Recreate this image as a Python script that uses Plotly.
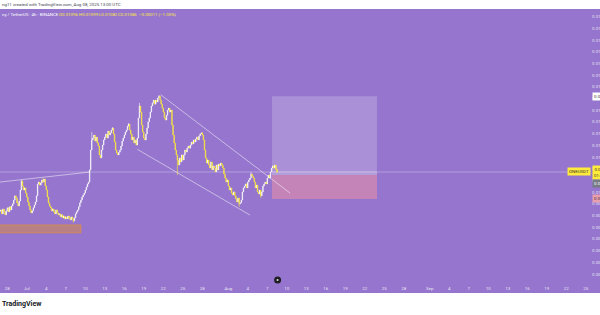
import pandas as pd
import plotly.graph_objects as go

# ---------------- data (prices in units of 1e-5 USDT) ----------------
start_time = "2025-06-27 00:00"   # first 4h candle
first_open_e5 = 918
close_e5 = [
    924, 907, 928, 916, 903, 920,
    933, 916, 937, 924, 941, 950,
    966, 984, 975, 954, 941, 962,
    1009, 1048, 1026, 1009, 1018, 996,
    979, 958, 941, 924, 911, 920,
    933, 945, 958, 984, 1035, 1043,
    1030, 1039, 1052, 1043, 1056, 1026,
    1009, 979, 954, 941, 933, 920,
    928, 916, 907, 924, 911, 903,
    907, 894, 903, 890, 898, 886,
    894, 886, 898, 890, 881, 894,
    886, 877, 890, 907, 916, 924,
    937, 954, 966, 979, 988, 996,
    1009, 1022, 1035, 1043, 1095, 1180,
    1223, 1231, 1244, 1218, 1235, 1210,
    1197, 1159, 1146, 1180, 1201, 1223,
    1235, 1248, 1231, 1261, 1244, 1253,
    1265, 1274, 1248, 1214, 1180, 1167,
    1159, 1171, 1180, 1197, 1218, 1231,
    1244, 1257, 1265, 1282, 1291, 1265,
    1248, 1223, 1235, 1210, 1223, 1201,
    1231, 1317, 1368, 1342, 1287, 1257,
    1231, 1223, 1248, 1274, 1300, 1317,
    1342, 1368, 1381, 1393, 1376, 1393,
    1385, 1402, 1410, 1393, 1376, 1359,
    1342, 1317, 1308, 1329, 1351, 1359,
    1342, 1351, 1287, 1244, 1210, 1180,
    1159, 1137, 1116, 1146, 1129, 1159,
    1137, 1159, 1180, 1171, 1188, 1197,
    1188, 1201, 1214, 1206, 1223, 1214,
    1227, 1235, 1223, 1240, 1248, 1253,
    1244, 1223, 1180, 1146, 1124, 1137,
    1116, 1103, 1129, 1095, 1112, 1103,
    1086, 1116, 1095, 1120, 1112, 1124,
    1116, 1103, 1077, 1060, 1043, 1052,
    1026, 1009, 1018, 996, 988, 1001,
    984, 971, 958, 975, 950, 954,
    966, 1001, 1018, 1026, 1035, 1018,
    1043, 1052, 1060, 1077, 1069, 1060,
    1043, 1018, 1030, 1001, 992, 1009,
    984, 1001, 1026, 1035, 1043, 1035,
    1060, 1073, 1060, 1086, 1103, 1112,
    1103, 1116, 1097, 1086,
]
# notable wick extremes (candle index -> price e5)
wick_high_e5 = {19: 1052, 39: 1060, 84: 1257, 103: 1278, 118: 1295, 128: 1381,
                146: 1415, 186: 1257, 231: 1086, 255: 1099}
wick_low_e5 = {67: 869, 163: 1073, 220: 937, 240: 975, 255: 1082}

x_tick_dates = ["2025-06-28", "2025-07-01", "2025-07-04", "2025-07-07", "2025-07-10",
                "2025-07-13", "2025-07-16", "2025-07-19", "2025-07-22", "2025-07-25",
                "2025-07-28", "2025-08-01", "2025-08-04", "2025-08-07", "2025-08-10",
                "2025-08-13", "2025-08-16", "2025-08-19", "2025-08-22", "2025-08-25",
                "2025-08-28", "2025-09-01", "2025-09-04", "2025-09-07", "2025-09-10",
                "2025-09-13", "2025-09-16", "2025-09-19", "2025-09-22", "2025-09-25"]
x_tick_text = ["28", "Jul", "4", "7", "10", "13", "16", "19", "22", "25", "28", "Aug",
               "4", "7", "10", "13", "16", "19", "22", "25", "28", "Sep", "4", "7",
               "10", "13", "16", "19", "22", "25"]

last_price = 0.01086
target_price = 0.01410
entry_price = 0.01073
stop_price = 0.00971

# ---------------- build OHLC ----------------
t = pd.date_range(start_time, periods=len(close_e5), freq="4h")
close = [c * 1e-5 for c in close_e5]
open_ = [first_open_e5 * 1e-5] + close[:-1]
high, low = [], []
for i, (o, c) in enumerate(zip(open_, close)):
    high.append(max(o, c, wick_high_e5.get(i, 0) * 1e-5))
    low.append(min(o, c, wick_low_e5.get(i, 10 ** 6) * 1e-5))

PURPLE = "#9575cd"
YELLOW = "#ffeb3b"
W, H = 600, 315
ML, MR, MT, MB = 0, 9, 9, 32
PW, PH = W - ML - MR, H - MT - MB


def px_x(x):
    return (x - ML) / PW


def px_y(y):
    return (H - MB - y) / PH


fig = go.Figure()
fig.add_trace(go.Candlestick(
    x=t, open=open_, high=high, low=low, close=close,
    increasing=dict(line=dict(color="rgba(255,255,255,0.95)", width=0.6), fillcolor="#ffffff"),
    decreasing=dict(line=dict(color=YELLOW, width=0.6), fillcolor=YELLOW),
    whiskerwidth=0, hoverinfo="skip",
))

shapes = []
# white strips (header / footer)
shapes.append(dict(type="rect", xref="paper", yref="paper", x0=-0.1, x1=1.2,
                   y0=1, y1=1 + 12 / PH, fillcolor="white", line=dict(width=0)))
shapes.append(dict(type="rect", xref="paper", yref="paper", x0=-0.1, x1=1.2,
                   y0=px_y(293), y1=-0.2, fillcolor="white", line=dict(width=0)))
# orange zone bottom-left
shapes.append(dict(type="rect", xref="x", yref="y", x0="2025-06-25 00:00", x1="2025-07-09 08:00",
                   y0=0.00826, y1=0.00860, fillcolor="rgba(255,152,0,0.35)",
                   line=dict(color="rgba(255,152,0,0.45)", width=1), layer="below"))
# long position tool
shapes.append(dict(type="rect", xref="x", yref="y", x0="2025-08-07 17:30", x1="2025-08-23 21:00",
                   y0=entry_price, y1=target_price, fillcolor="rgba(255,255,255,0.2)",
                   line=dict(width=0), layer="below"))
shapes.append(dict(type="rect", xref="x", yref="y", x0="2025-08-07 17:30", x1="2025-08-23 21:00",
                   y0=stop_price, y1=entry_price, fillcolor="rgba(255,150,160,0.45)",
                   line=dict(width=0), layer="below"))
shapes.append(dict(type="rect", xref="x", yref="y", x0="2025-08-07 17:30", x1="2025-08-23 21:00",
                   y0=entry_price, y1=0.01090, fillcolor="rgba(255,255,255,0.12)",
                   line=dict(width=0), layer="below"))
# price line
shapes.append(dict(type="line", xref="paper", yref="y", x0=0, x1=px_x(571),
                   y0=last_price, y1=last_price,
                   line=dict(color="rgba(255,255,255,0.3)", width=1), layer="below"))
# trend lines
LINE = dict(color="rgba(255,255,255,0.5)", width=1)
shapes.append(dict(type="line", xref="x", yref="y", x0="2025-06-26 21:07", y0=0.01043,
                   x1="2025-07-10 17:25", y1=0.01086, line=LINE))
shapes.append(dict(type="line", xref="x", yref="y", x0="2025-07-21 14:25", y0=0.01416,
                   x1="2025-08-10 11:55", y1=0.00996, line=LINE))
shapes.append(dict(type="line", xref="x", yref="y", x0="2025-07-18 00:00", y0=0.01183,
                   x1="2025-08-04 08:07", y1=0.00902, line=LINE))
# event marker on time axis
shapes.append(dict(type="circle", xref="x", yref="paper", xsizemode="pixel", ysizemode="pixel",
                   xanchor="2025-08-08 14:00", yanchor=px_y(280), x0=-3.5, x1=3.5, y0=-3.5, y1=3.5,
                   fillcolor="#1e1e24", line=dict(width=0)))
shapes.append(dict(type="circle", xref="x", yref="paper", xsizemode="pixel", ysizemode="pixel",
                   xanchor="2025-08-08 14:00", yanchor=px_y(280), x0=-1, x1=1, y0=-1, y1=1,
                   fillcolor="#e0e0e0", line=dict(width=0)))

FS = 4.4
ann = []
ann.append(dict(text="ng11 created with TradingView.com, Aug 08, 2025 13:00 UTC",
                xref="paper", yref="paper", x=px_x(0), y=px_y(4.5), xanchor="left", yanchor="middle",
                showarrow=False, font=dict(size=FS, color="#434651")))
legend_parts = [("ny / TetherUS · 4h · BINANCE", 0, "#ffffff"),
                ("O0.01096", 57, YELLOW), ("H0.01099", 77, YELLOW),
                ("L0.01082", 97, YELLOW), ("C0.01086", 116, YELLOW),
                ("−0.00011 (−1.00%)", 137, YELLOW)]
for txt, xp, col in legend_parts:
    ann.append(dict(text=txt, xref="paper", yref="paper", x=px_x(xp), y=px_y(14.7),
                    xanchor="left", yanchor="middle", showarrow=False,
                    font=dict(size=FS, color=col)))
ann.append(dict(text="<b>TradingView</b>", xref="paper", yref="paper", x=px_x(0), y=px_y(304),
                xanchor="left", yanchor="middle", showarrow=False,
                font=dict(size=7, color="#131722")))
# price-scale labels
ann.append(dict(text="ONEUSDT", xref="paper", yref="paper", x=1, y=px_y(171.5),
                xanchor="right", yanchor="middle", showarrow=False, bgcolor=YELLOW,
                borderpad=1, font=dict(size=FS, color="#333333")))
label_boxes = [(f"{last_price:.5f}<br>01:59:43", 173, YELLOW, "#333333"),
               (f"{entry_price:.5f}", 183, "#787b86", "#ffffff"),
               (f"{target_price:.5f}", 96, "#ffffff", "#333333"),
               (f"{stop_price:.5f}", 199, "#e8a0b0", "#4a2a3a")]
for txt, yp, bg, fc in label_boxes:
    ann.append(dict(text=txt, xref="paper", yref="paper", x=px_x(592), y=px_y(yp),
                    xanchor="left", yanchor="middle", showarrow=False, bgcolor=bg,
                    borderpad=1, font=dict(size=FS, color=fc)))

fig.update_layout(
    width=W, height=H, margin=dict(l=ML, r=MR, t=MT, b=MB, autoexpand=False),
    paper_bgcolor=PURPLE, plot_bgcolor=PURPLE, showlegend=False,
    font=dict(family="Roboto", size=FS, color="rgba(255,255,255,0.85)"),
    shapes=shapes, annotations=ann,
    xaxis=dict(type="date", range=["2025-06-26 21:07", "2025-09-25 19:10"],
               tickvals=x_tick_dates, ticktext=x_tick_text, showgrid=False, zeroline=False,
               showline=False, ticks="", rangeslider=dict(visible=False), fixedrange=True,
               automargin=False, ticklabelstandoff=2,
               tickfont=dict(size=FS, color="rgba(255,255,255,0.85)")),
    yaxis=dict(side="right", range=[0.006116, 0.017826], dtick=0.0005, tick0=0,
               tickformat=".5f", showgrid=False, zeroline=False, showline=False, ticks="",
               fixedrange=True, automargin=False,
               tickfont=dict(size=FS, color="rgba(255,255,255,0.8)")),
)

fig.write_html("out.html")
